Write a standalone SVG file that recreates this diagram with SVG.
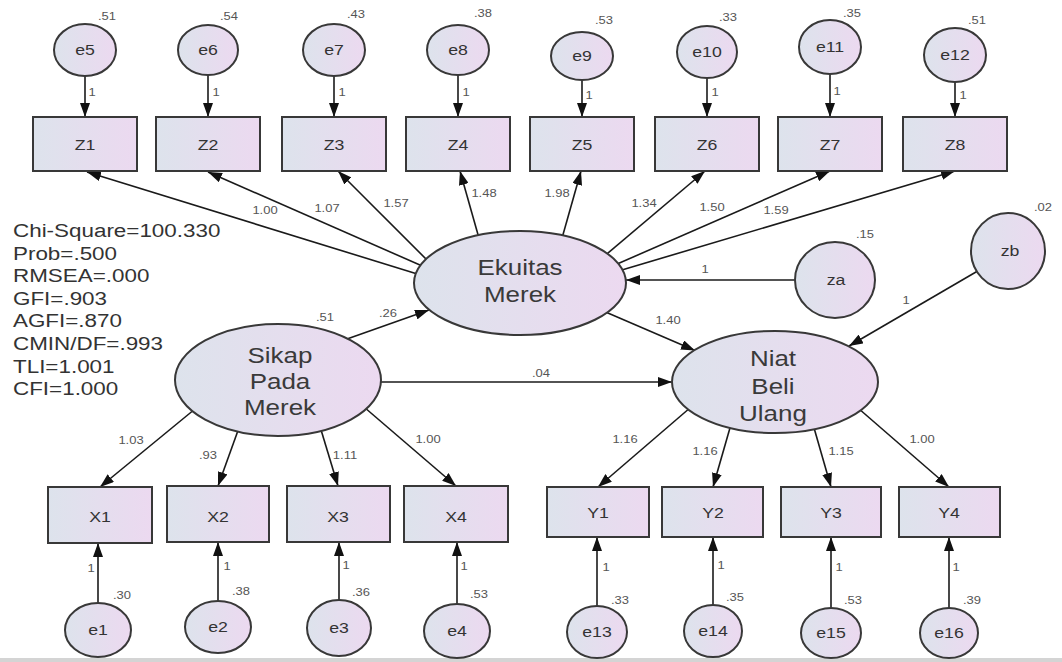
<svg xmlns="http://www.w3.org/2000/svg" width="1062" height="662" viewBox="0 0 1062 662">
  <defs>
    <linearGradient id="fillg" x1="0" y1="0" x2="1" y2="0">
      <stop offset="0" stop-color="#dde3ec"/>
      <stop offset="1" stop-color="#ecd9f0"/>
    </linearGradient>
    <marker id="ah" viewBox="0 0 14 10" refX="14" refY="5" markerWidth="14" markerHeight="10" markerUnits="userSpaceOnUse" orient="auto">
      <path d="M0,0 L14,5 L0,10 z" fill="#111"/>
    </marker>
    <style>
      .box { fill: url(#fillg); stroke: #383838; stroke-width: 2; }
      .ell { fill: url(#fillg); stroke: #383838; stroke-width: 2; }
      .ln { fill: none; stroke: #1a1a1a; stroke-width: 1.6; marker-end: url(#ah); }
      text { font-family: "Liberation Sans", Arial, sans-serif; fill: #333; }
      .lab { font-size: 15px; text-anchor: middle; }
      .big { font-size: 22px; text-anchor: middle; fill: #3a3a3a; }
      .sm { font-size: 11px; text-anchor: middle; fill: #555; }
      .st { font-size: 19px; fill: #333; }
    </style>
  </defs>

  <rect x="0" y="0" width="1062" height="662" fill="#ffffff"/>
  <rect x="0" y="658" width="1062" height="4" fill="#d4d4d4"/>

  <!-- connectors -->
  <g id="connectors">
    <!-- error terms to Z indicators -->
    <line class="ln" x1="85" y1="50" x2="85" y2="117"/>
    <line class="ln" x1="208" y1="50" x2="208" y2="117"/>
    <line class="ln" x1="334" y1="50" x2="334" y2="117"/>
    <line class="ln" x1="458" y1="50" x2="458" y2="117"/>
    <line class="ln" x1="582" y1="56" x2="582" y2="117"/>
    <line class="ln" x1="707" y1="52" x2="707" y2="117"/>
    <line class="ln" x1="830" y1="47" x2="830" y2="117"/>
    <line class="ln" x1="955" y1="55" x2="955" y2="117"/>

    <!-- Ekuitas Merek to Z indicators -->
    <line class="ln" x1="440" y1="281" x2="87" y2="172"/>
    <line class="ln" x1="445" y1="276" x2="208" y2="172"/>
    <line class="ln" x1="450" y1="283" x2="338" y2="171"/>
    <line class="ln" x1="488" y1="270" x2="460" y2="171"/>
    <line class="ln" x1="553" y1="270" x2="581" y2="171"/>
    <line class="ln" x1="582" y1="275" x2="705" y2="171"/>
    <line class="ln" x1="592" y1="275" x2="830" y2="171"/>
    <line class="ln" x1="605" y1="275" x2="955" y2="171"/>

    <!-- structural paths -->
    <line class="ln" x1="330" y1="345" x2="429" y2="310"/>
    <line class="ln" x1="360" y1="382" x2="672" y2="382"/>
    <line class="ln" x1="580" y1="301" x2="695" y2="350.5"/>
    <line class="ln" x1="835" y1="280" x2="626" y2="280"/>
    <line class="ln" x1="1000" y1="258" x2="849" y2="346"/>

    <!-- Sikap Pada Merek to X indicators -->
    <line class="ln" x1="212" y1="395" x2="100" y2="487"/>
    <line class="ln" x1="249" y1="400" x2="218" y2="486"/>
    <line class="ln" x1="312" y1="400" x2="338" y2="486"/>
    <line class="ln" x1="350" y1="395" x2="456" y2="486"/>

    <!-- Niat Beli Ulang to Y indicators -->
    <line class="ln" x1="705" y1="395" x2="598" y2="487"/>
    <line class="ln" x1="738" y1="400" x2="713" y2="487"/>
    <line class="ln" x1="806" y1="400" x2="831" y2="487"/>
    <line class="ln" x1="843" y1="395" x2="949" y2="487"/>

    <!-- error terms to X / Y indicators -->
    <line class="ln" x1="98" y1="630" x2="98" y2="543"/>
    <line class="ln" x1="218" y1="627" x2="218" y2="542"/>
    <line class="ln" x1="339" y1="628" x2="339" y2="542"/>
    <line class="ln" x1="457" y1="631" x2="457" y2="542"/>
    <line class="ln" x1="597" y1="632" x2="597" y2="537"/>
    <line class="ln" x1="713" y1="631" x2="713" y2="537"/>
    <line class="ln" x1="831" y1="633" x2="831" y2="537"/>
    <line class="ln" x1="949" y1="633" x2="949" y2="537"/>

    <!-- path coefficients -->
    <g class="coef">
      <text class="sm" transform="translate(92 96) scale(1.18 1)">1</text>
      <text class="sm" transform="translate(216 96) scale(1.18 1)">1</text>
      <text class="sm" transform="translate(342 96) scale(1.18 1)">1</text>
      <text class="sm" transform="translate(466 96) scale(1.18 1)">1</text>
      <text class="sm" transform="translate(589 99) scale(1.18 1)">1</text>
      <text class="sm" transform="translate(715 96) scale(1.18 1)">1</text>
      <text class="sm" transform="translate(837 95) scale(1.18 1)">1</text>
      <text class="sm" transform="translate(963 99) scale(1.18 1)">1</text>

      <text class="sm" transform="translate(265 214) scale(1.18 1)">1.00</text>
      <text class="sm" transform="translate(327 212) scale(1.18 1)">1.07</text>
      <text class="sm" transform="translate(396 207) scale(1.18 1)">1.57</text>
      <text class="sm" transform="translate(484 197) scale(1.18 1)">1.48</text>
      <text class="sm" transform="translate(557 197) scale(1.18 1)">1.98</text>
      <text class="sm" transform="translate(644 207) scale(1.18 1)">1.34</text>
      <text class="sm" transform="translate(712 211) scale(1.18 1)">1.50</text>
      <text class="sm" transform="translate(776 214) scale(1.18 1)">1.59</text>

      <text class="sm" transform="translate(388 317) scale(1.18 1)">.26</text>
      <text class="sm" transform="translate(541 377) scale(1.18 1)">.04</text>
      <text class="sm" transform="translate(668 324) scale(1.18 1)">1.40</text>
      <text class="sm" transform="translate(705 273) scale(1.18 1)">1</text>
      <text class="sm" transform="translate(906 304) scale(1.18 1)">1</text>

      <text class="sm" transform="translate(131 444) scale(1.18 1)">1.03</text>
      <text class="sm" transform="translate(208 459) scale(1.18 1)">.93</text>
      <text class="sm" transform="translate(345 459) scale(1.18 1)">1.11</text>
      <text class="sm" transform="translate(428 443) scale(1.18 1)">1.00</text>
      <text class="sm" transform="translate(625 443) scale(1.18 1)">1.16</text>
      <text class="sm" transform="translate(705 455) scale(1.18 1)">1.16</text>
      <text class="sm" transform="translate(841 455) scale(1.18 1)">1.15</text>
      <text class="sm" transform="translate(922 443) scale(1.18 1)">1.00</text>

      <text class="sm" transform="translate(91 572) scale(1.18 1)">1</text>
      <text class="sm" transform="translate(227 570) scale(1.18 1)">1</text>
      <text class="sm" transform="translate(346 569) scale(1.18 1)">1</text>
      <text class="sm" transform="translate(464 570) scale(1.18 1)">1</text>
      <text class="sm" transform="translate(606 571) scale(1.18 1)">1</text>
      <text class="sm" transform="translate(721 569) scale(1.18 1)">1</text>
      <text class="sm" transform="translate(839 571) scale(1.18 1)">1</text>
      <text class="sm" transform="translate(956 571) scale(1.18 1)">1</text>
    </g>
  </g>

  <!-- model fit summary -->
  <g id="fit-stats">
    <text class="st" transform="translate(13 237) scale(1.18 1)">Chi-Square=100.330</text>
    <text class="st" transform="translate(13 259.6) scale(1.18 1)">Prob=.500</text>
    <text class="st" transform="translate(13 282.2) scale(1.18 1)">RMSEA=.000</text>
    <text class="st" transform="translate(13 304.8) scale(1.18 1)">GFI=.903</text>
    <text class="st" transform="translate(13 327.4) scale(1.18 1)">AGFI=.870</text>
    <text class="st" transform="translate(13 350) scale(1.18 1)">CMIN/DF=.993</text>
    <text class="st" transform="translate(13 372.6) scale(1.18 1)">TLI=1.001</text>
    <text class="st" transform="translate(13 395.2) scale(1.18 1)">CFI=1.000</text>
  </g>

  <!-- top error terms -->
  <g id="e5"><ellipse class="ell" cx="85" cy="50" rx="31" ry="26"/><text class="lab" transform="translate(85 55) scale(1.18 1)">e5</text><text class="sm" transform="translate(107 20) scale(1.18 1)">.51</text></g>
  <g id="e6"><ellipse class="ell" cx="208" cy="50" rx="30" ry="25"/><text class="lab" transform="translate(208 55) scale(1.18 1)">e6</text><text class="sm" transform="translate(229 20) scale(1.18 1)">.54</text></g>
  <g id="e7"><ellipse class="ell" cx="334" cy="50" rx="31" ry="26"/><text class="lab" transform="translate(334 55) scale(1.18 1)">e7</text><text class="sm" transform="translate(356 18) scale(1.18 1)">.43</text></g>
  <g id="e8"><ellipse class="ell" cx="458" cy="50" rx="31" ry="25"/><text class="lab" transform="translate(458 55) scale(1.18 1)">e8</text><text class="sm" transform="translate(483 17) scale(1.18 1)">.38</text></g>
  <g id="e9"><ellipse class="ell" cx="582" cy="56" rx="31" ry="24"/><text class="lab" transform="translate(582 61) scale(1.18 1)">e9</text><text class="sm" transform="translate(604 24) scale(1.18 1)">.53</text></g>
  <g id="e10"><ellipse class="ell" cx="707" cy="52" rx="30" ry="26"/><text class="lab" transform="translate(707 57) scale(1.18 1)">e10</text><text class="sm" transform="translate(728 21) scale(1.18 1)">.33</text></g>
  <g id="e11"><ellipse class="ell" cx="830" cy="47" rx="31" ry="27"/><text class="lab" transform="translate(830 52) scale(1.18 1)">e11</text><text class="sm" transform="translate(852 17) scale(1.18 1)">.35</text></g>
  <g id="e12"><ellipse class="ell" cx="955" cy="55" rx="31" ry="27"/><text class="lab" transform="translate(955 60) scale(1.18 1)">e12</text><text class="sm" transform="translate(977 24) scale(1.18 1)">.51</text></g>

  <!-- Z indicators -->
  <g id="Z1"><rect class="box" x="33" y="117" width="104" height="54"/><text class="lab" transform="translate(85 150) scale(1.18 1)">Z1</text></g>
  <g id="Z2"><rect class="box" x="156" y="117" width="104" height="54"/><text class="lab" transform="translate(208 150) scale(1.18 1)">Z2</text></g>
  <g id="Z3"><rect class="box" x="282" y="117" width="104" height="54"/><text class="lab" transform="translate(334 150) scale(1.18 1)">Z3</text></g>
  <g id="Z4"><rect class="box" x="406" y="117" width="104" height="54"/><text class="lab" transform="translate(458 150) scale(1.18 1)">Z4</text></g>
  <g id="Z5"><rect class="box" x="530" y="117" width="104" height="54"/><text class="lab" transform="translate(582 150) scale(1.18 1)">Z5</text></g>
  <g id="Z6"><rect class="box" x="655" y="117" width="104" height="54"/><text class="lab" transform="translate(707 150) scale(1.18 1)">Z6</text></g>
  <g id="Z7"><rect class="box" x="778" y="117" width="104" height="54"/><text class="lab" transform="translate(830 150) scale(1.18 1)">Z7</text></g>
  <g id="Z8"><rect class="box" x="903" y="117" width="104" height="54"/><text class="lab" transform="translate(955 150) scale(1.18 1)">Z8</text></g>

  <!-- latent constructs -->
  <g id="ekuitas-merek">
    <ellipse class="ell" cx="520" cy="283" rx="106" ry="52"/>
    <text class="big" transform="translate(520 275) scale(1.18 1)">Ekuitas</text>
    <text class="big" transform="translate(520 302) scale(1.18 1)">Merek</text>
  </g>
  <g id="sikap-pada-merek">
    <ellipse class="ell" cx="278" cy="380" rx="103" ry="56"/>
    <text class="big" transform="translate(280 363) scale(1.18 1)">Sikap</text>
    <text class="big" transform="translate(280 389) scale(1.18 1)">Pada</text>
    <text class="big" transform="translate(280 415) scale(1.18 1)">Merek</text>
    <text class="sm" transform="translate(325 321) scale(1.18 1)">.51</text>
  </g>
  <g id="niat-beli-ulang">
    <ellipse class="ell" cx="775" cy="382" rx="103" ry="51"/>
    <text class="big" transform="translate(773 366) scale(1.18 1)">Niat</text>
    <text class="big" transform="translate(773 394) scale(1.18 1)">Beli</text>
    <text class="big" transform="translate(773 421) scale(1.18 1)">Ulang</text>
  </g>

  <!-- disturbances -->
  <g id="za"><ellipse class="ell" cx="835" cy="280" rx="40" ry="38"/><text class="lab" transform="translate(836 285) scale(1.18 1)">za</text><text class="sm" transform="translate(865 238) scale(1.18 1)">.15</text></g>
  <g id="zb"><ellipse class="ell" cx="1008" cy="251" rx="37" ry="38"/><text class="lab" transform="translate(1010 256) scale(1.18 1)">zb</text><text class="sm" transform="translate(1043 211) scale(1.18 1)">.02</text></g>

  <!-- X indicators -->
  <g id="X1"><rect class="box" x="48" y="487" width="104" height="56"/><text class="lab" transform="translate(100 522) scale(1.18 1)">X1</text></g>
  <g id="X2"><rect class="box" x="167" y="486" width="102" height="56"/><text class="lab" transform="translate(218 522) scale(1.18 1)">X2</text></g>
  <g id="X3"><rect class="box" x="287" y="486" width="103" height="56"/><text class="lab" transform="translate(338 522) scale(1.18 1)">X3</text></g>
  <g id="X4"><rect class="box" x="404" y="486" width="104" height="56"/><text class="lab" transform="translate(456 522) scale(1.18 1)">X4</text></g>

  <!-- Y indicators -->
  <g id="Y1"><rect class="box" x="547" y="487" width="102" height="50"/><text class="lab" transform="translate(598 518) scale(1.18 1)">Y1</text></g>
  <g id="Y2"><rect class="box" x="662" y="487" width="101" height="50"/><text class="lab" transform="translate(713 518) scale(1.18 1)">Y2</text></g>
  <g id="Y3"><rect class="box" x="781" y="487" width="100" height="50"/><text class="lab" transform="translate(831 518) scale(1.18 1)">Y3</text></g>
  <g id="Y4"><rect class="box" x="899" y="487" width="101" height="50"/><text class="lab" transform="translate(949 518) scale(1.18 1)">Y4</text></g>

  <!-- bottom error terms -->
  <g id="e1"><ellipse class="ell" cx="98" cy="630" rx="33" ry="27"/><text class="lab" transform="translate(98 635) scale(1.18 1)">e1</text><text class="sm" transform="translate(122 599) scale(1.18 1)">.30</text></g>
  <g id="e2"><ellipse class="ell" cx="218" cy="627" rx="33" ry="26"/><text class="lab" transform="translate(218 632) scale(1.18 1)">e2</text><text class="sm" transform="translate(241 595) scale(1.18 1)">.38</text></g>
  <g id="e3"><ellipse class="ell" cx="339" cy="628" rx="32" ry="28"/><text class="lab" transform="translate(339 633) scale(1.18 1)">e3</text><text class="sm" transform="translate(361 596) scale(1.18 1)">.36</text></g>
  <g id="e4"><ellipse class="ell" cx="457" cy="631" rx="33" ry="27"/><text class="lab" transform="translate(457 636) scale(1.18 1)">e4</text><text class="sm" transform="translate(479 598) scale(1.18 1)">.53</text></g>
  <g id="e13"><ellipse class="ell" cx="597" cy="632" rx="30" ry="26"/><text class="lab" transform="translate(597 637) scale(1.18 1)">e13</text><text class="sm" transform="translate(620 604) scale(1.18 1)">.33</text></g>
  <g id="e14"><ellipse class="ell" cx="713" cy="631" rx="29" ry="26"/><text class="lab" transform="translate(713 636) scale(1.18 1)">e14</text><text class="sm" transform="translate(735 601) scale(1.18 1)">.35</text></g>
  <g id="e15"><ellipse class="ell" cx="831" cy="633" rx="30" ry="25"/><text class="lab" transform="translate(831 638) scale(1.18 1)">e15</text><text class="sm" transform="translate(853 604) scale(1.18 1)">.53</text></g>
  <g id="e16"><ellipse class="ell" cx="949" cy="633" rx="29" ry="25"/><text class="lab" transform="translate(949 638) scale(1.18 1)">e16</text><text class="sm" transform="translate(972 604) scale(1.18 1)">.39</text></g>
</svg>
